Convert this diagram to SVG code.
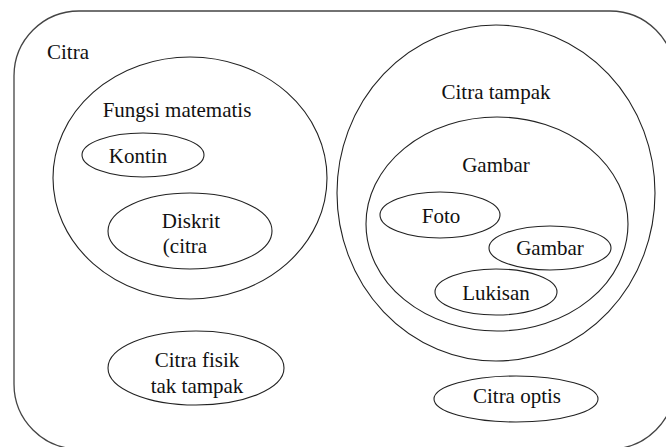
<svg xmlns="http://www.w3.org/2000/svg" width="666" height="447" viewBox="0 0 666 447">
<style>
.s{fill:none;stroke:#222;stroke-width:1.1}
.o{fill:none;stroke:#444;stroke-width:1.3}
.t{font-family:'Liberation Serif','Times New Roman',serif;font-size:21px;fill:#111;text-anchor:middle}
</style>
<rect width="666" height="447" fill="#fff"/>
<g id="citra">
<rect class="o" x="14" y="11" width="661" height="438" rx="65" ry="65"/>
<text class="t" x="47" y="59" style="text-anchor:start">Citra</text>
</g>
<g id="fungsi-matematis">
<ellipse class="s" cx="190" cy="178" rx="137" ry="121"/>
<text class="t" x="177" y="117">Fungsi matematis</text>
</g>
<g id="kontin">
<ellipse class="s" cx="143" cy="155" rx="61" ry="22"/>
<text class="t" x="138" y="163">Kontin</text>
</g>
<g id="diskrit">
<ellipse class="s" cx="190" cy="231" rx="82" ry="38"/>
<text class="t" x="191" y="228">Diskrit</text>
<text class="t" x="185" y="253">(citra</text>
</g>
<g id="citra-fisik">
<ellipse class="s" cx="196" cy="368" rx="88" ry="37"/>
<text class="t" x="197" y="367">Citra fisik</text>
<text class="t" x="197" y="393">tak tampak</text>
</g>
<g id="citra-tampak">
<ellipse class="s" cx="496" cy="193" rx="159" ry="168"/>
<text class="t" x="496" y="99">Citra tampak</text>
</g>
<g id="gambar-besar">
<ellipse class="s" cx="497" cy="224" rx="131" ry="107"/>
<text class="t" x="496" y="172">Gambar</text>
</g>
<g id="foto">
<ellipse class="s" cx="440" cy="215" rx="60" ry="23"/>
<text class="t" x="441" y="223">Foto</text>
</g>
<g id="gambar">
<ellipse class="s" cx="550" cy="248" rx="61" ry="22"/>
<text class="t" x="550" y="255">Gambar</text>
</g>
<g id="lukisan">
<ellipse class="s" cx="496" cy="292" rx="61" ry="23"/>
<text class="t" x="496" y="300">Lukisan</text>
</g>
<g id="citra-optis">
<ellipse class="s" cx="516" cy="399" rx="82" ry="23"/>
<text class="t" x="517" y="403">Citra optis</text>
</g>
<g id="connectors"></g>
</svg>
